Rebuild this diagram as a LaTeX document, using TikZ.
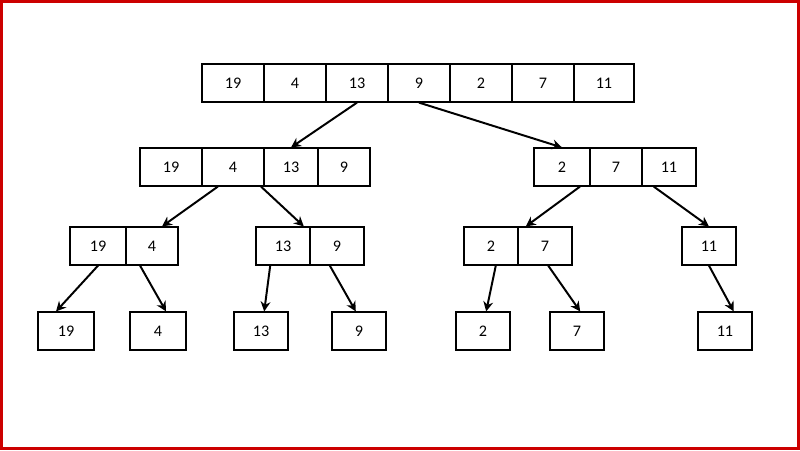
\documentclass[tikz,border=0pt]{standalone}
\usepackage{fontspec}
\setmainfont{Carlito}
\usetikzlibrary{arrows.meta}
\begin{document}
\begin{tikzpicture}[
        x=0.025cm, y=-0.025cm,
        cell/.style={rectangle, draw=black, line width=1.1pt, inner sep=0pt, minimum height=0.94cm, font=\fontsize{11.5}{13}\selectfont},
        arrow/.style={-{Stealth[length=7pt,width=7pt]}, line width=1.4pt, black}
    ]
        % Frame
        \draw[line width=2.2pt, red!80!black] (1.5,1.5) rectangle (798.5,448.5);
        \useasboundingbox (0,0) rectangle (800,450);

        % Cells: name/left/right/y/label
        \foreach \n/\a/\b/\y/\t in {
            t1/202/264/83/19, t2/264/326/83/4, t3/326/388/83/13, t4/388/450/83/9,
            t5/450/512/83/2, t6/512/574/83/7, t7/574/634/83/11,
            l1/140/202/167/19, l2/202/264/167/4, l3/264/318/167/13, l4/318/370/167/9,
            r1/534/590/167/2, r2/590/642/167/7, r3/642/696/167/11,
            a1/70/126/246/19, a2/126/178/246/4, b1/256/310/246/13, b2/310/364/246/9,
            c1/464/518/246/2, c2/518/572/246/7, d1/682/736/246/11,
            e1/38/94/331/19, e2/130/186/331/4, e3/234/288/331/13, e4/332/386/331/9,
            e5/456/510/331/2, e6/550/604/331/7, e7/698/752/331/11}
            \node[cell, minimum width={(\b-\a)*0.025cm}] (\n) at ({(\a+\b)/2},\y) {\t};

        % Arrows
        \draw[arrow] (t3.south) -- (l3.north);
        \draw[arrow] (t4.south) -- (r1.north);
        \draw[arrow] ([xshift=-0.38cm]l2.south) -- ([xshift=0.25cm]a2.north);
        \draw[arrow] ([xshift=0.7cm]l2.south) -- ([xshift=0.52cm]b1.north);
        \draw[arrow] ([xshift=0.45cm]r1.south) -- ([xshift=-0.48cm]c2.north);
        \draw[arrow] ([xshift=-0.38cm]r3.south) -- (d1.north);
        \draw[arrow] (a1.south) -- ([xshift=-0.25cm]e1.north);
        \draw[arrow] ([xshift=-0.3cm]a2.south) -- ([xshift=0.2cm]e2.north);
        \draw[arrow] ([xshift=-0.32cm]b1.south) -- ([xshift=0.08cm]e3.north);
        \draw[arrow] ([xshift=-0.18cm]b2.south) -- ([xshift=-0.08cm]e4.north);
        \draw[arrow] ([xshift=0.12cm]c1.south) -- ([xshift=0.08cm]e5.north);
        \draw[arrow] ([xshift=0.08cm]c2.south) -- ([xshift=0.08cm]e6.north);
        \draw[arrow] (d1.south) -- ([xshift=0.22cm]e7.north);
    \end{tikzpicture}
\end{document}
